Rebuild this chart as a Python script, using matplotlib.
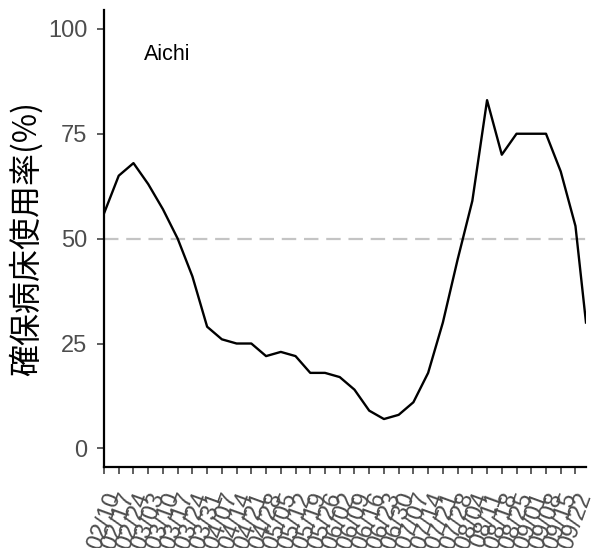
import pandas as pd
import matplotlib
matplotlib.use("Agg")
import matplotlib.pyplot as plt

# weekly survey dates (2021); the last point is a partial week
dates = ["02/10", "02/17", "02/24", "03/03", "03/10", "03/17", "03/24", "03/31",
         "04/07", "04/14", "04/21", "04/28", "05/05", "05/12", "05/19", "05/26",
         "06/02", "06/09", "06/16", "06/23", "06/30", "07/07", "07/14", "07/21",
         "07/28", "08/04", "08/11", "08/18", "08/25", "09/01", "09/08", "09/15",
         "09/22", "09/27"]
usage = [56, 65, 68, 63, 57, 50, 41, 29, 26, 25, 25, 22, 23, 22, 18, 18,
         17, 14, 9, 7, 8, 11, 18, 30, 45, 59, 83, 70, 75, 75, 75, 66,
         53, 30]
tick_labels = dates[:-1]
pref = "Aichi"
threshold = 50

x = pd.to_datetime(["2021/" + d for d in dates])

plt.rcParams['font.family'] = ['Liberation Sans', 'DejaVu Sans']

fig = plt.figure(figsize=(5.96, 5.48), dpi=100)
ax = fig.add_axes([0.1745, 0.1473, 0.8087, 0.8345])

ax.axhline(threshold, color="#c4c4c4", lw=1.6, ls=(0, (6.5, 3.5)), zorder=1)
ax.plot(x, usage, color="black", lw=1.7, zorder=2)

ax.text(pd.Timestamp("2021-03-12"), 94, pref, ha="center", va="center",
        fontsize=15.5, color="black")

ax.set_xlim(x[0], x[-1])
ax.set_ylim(-4.5, 104.5)
ax.set_yticks([0, 25, 50, 75, 100])
ax.set_xticks(x[:-1])
ax.set_xticklabels(tick_labels, rotation=70, ha="right", va="top",
                   rotation_mode="anchor")

for s in ["top", "right"]:
    ax.spines[s].set_visible(False)
for s in ["left", "bottom"]:
    ax.spines[s].set_linewidth(1.6)
    ax.spines[s].set_color("black")

ax.tick_params(axis="both", length=5, width=1.1, color="#333333",
               labelcolor="#4d4d4d", labelsize=17)
ax.tick_params(axis="y", pad=7)
ax.tick_params(axis="x", pad=11)

ax.set_ylabel("確保病床使用率(%)", fontsize=23, color="black", labelpad=4,
              family=['Noto Sans CJK JP', 'DejaVu Sans'])

fig.savefig("out.png", dpi=100)
